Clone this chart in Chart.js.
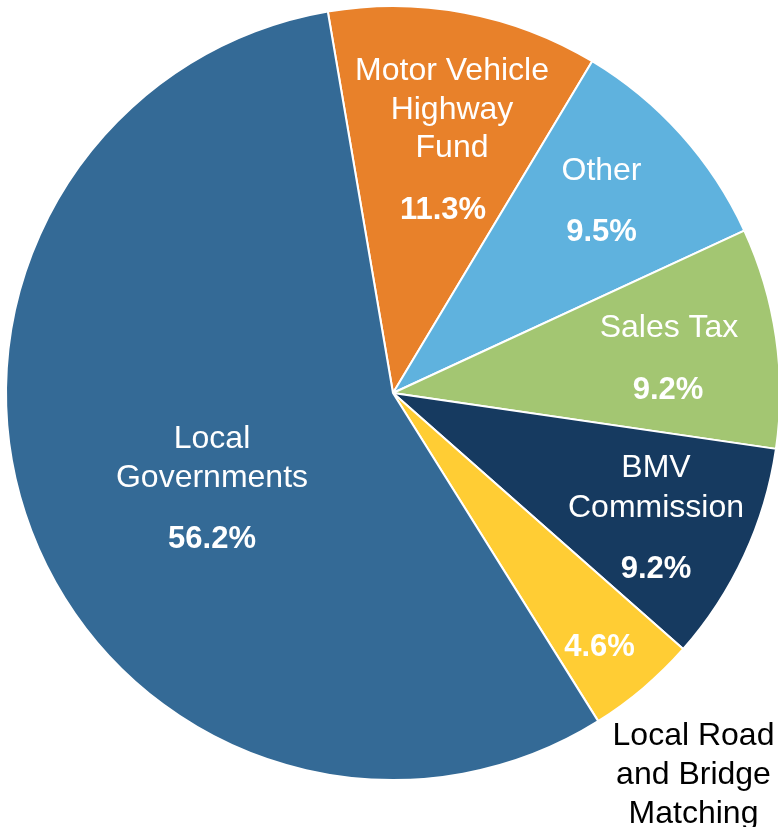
<!DOCTYPE html>
<html>
<head>
<meta charset="utf-8">
<script src="https://cdn.jsdelivr.net/npm/chart.js@4/dist/chart.umd.min.js"></script>
<style>
  html, body { margin: 0; padding: 0; background: #ffffff; }
  canvas { display: block; }
</style>
</head>
<body>
<canvas id="c" width="778" height="827"></canvas>
<script>
// ---- data ----
const categories = ["Motor Vehicle Highway Fund", "Other", "Sales Tax", "BMV Commission", "Local Road and Bridge Matching", "Local Governments"];
const labelLines = [["Motor Vehicle", "Highway", "Fund"], ["Other"], ["Sales Tax"], ["BMV", "Commission"], ["Local Road", "and Bridge", "Matching"], ["Local", "Governments"]];
const shares = [11.3, 9.5, 9.2, 9.2, 4.6, 56.2];
const colors = ["#E8812A", "#5FB2DE", "#A3C672", "#163A60", "#FFCD34", "#346A96"];

// ---- label layout (offsets of cap-centres from pie centre) ----
const nameLayout = [
  {dx: 59, dy: [-324.5, -285.8, -247], color: "#ffffff"},
  {dx: 208.5, dy: [-224], color: "#ffffff"},
  {dx: 276, dy: [-67], color: "#ffffff"},
  {dx: 263, dy: [73, 112.5], color: "#ffffff"},
  {dx: 300.5, dy: [341, 380, 419], color: "#000000"},
  {dx: -181, dy: [44, 82.5], color: "#ffffff"}
];
const pctLayout = [
  {dx: 50, dy: -185.5},
  {dx: 208.5, dy: -163},
  {dx: 275, dy: -5},
  {dx: 263, dy: 174},
  {dx: 206.5, dy: 252},
  {dx: -181, dy: 143.5}
];

const labelPlugin = {
  id: "sliceLabels",
  afterDatasetsDraw(chart) {
    const ctx = chart.ctx;
    const arc = chart.getDatasetMeta(0).data[0];
    const cx = arc.x, cy = arc.y;
    ctx.save();
    ctx.textAlign = "center";
    ctx.textBaseline = "alphabetic";
    const nameSize = 32, pctSize = 31;
    labelLines.forEach((lines, i) => {
      const L = nameLayout[i];
      ctx.fillStyle = L.color;
      ctx.font = nameSize + "px 'Liberation Sans', Arial, sans-serif";
      lines.forEach((t, j) => {
        ctx.fillText(t, cx + L.dx, cy + L.dy[j] + 0.358 * nameSize);
      });
      const P = pctLayout[i];
      ctx.fillStyle = "#ffffff";
      ctx.font = "bold " + pctSize + "px 'Liberation Sans', Arial, sans-serif";
      ctx.fillText(shares[i].toFixed(1) + "%", cx + P.dx, cy + P.dy + 0.358 * pctSize);
    });
    ctx.restore();
  }
};

new Chart(document.getElementById("c"), {
  type: "pie",
  data: {
    labels: categories,
    datasets: [{
      data: shares,
      backgroundColor: colors,
      borderColor: "#ffffff",
      borderWidth: 2,
      hoverOffset: 0
    }]
  },
  options: {
    responsive: false,
    animation: false,
    rotation: -9.7,
    radius: 387,
    layout: { padding: { left: 8, right: 0, top: 0, bottom: 41 } },
    plugins: {
      legend: { display: false },
      tooltip: { enabled: false }
    }
  },
  plugins: [labelPlugin]
});
</script>
</body>
</html>
